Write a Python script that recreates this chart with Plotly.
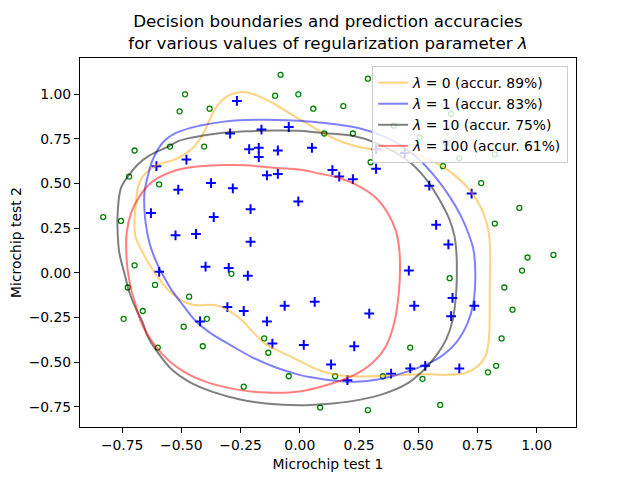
import plotly.graph_objects as go

# microchip test results (ex2data2): test 1, test 2, accepted?
test1 = [0.051267, -0.092742, -0.21371, -0.375, -0.51325, -0.52477, -0.39804, -0.30588, 0.016705, 0.13191,
         0.38537, 0.52938, 0.63882, 0.73675, 0.54666, 0.322, 0.16647, -0.046659, -0.17339, -0.47869,
         -0.60541, -0.62846, -0.59389, -0.42108, -0.11578, 0.20104, 0.46601, 0.67339, -0.13882, -0.29435,
         -0.26555, -0.16187, -0.17339, -0.28283, -0.36348, -0.30012, -0.23675, -0.06394, 0.062788, 0.22984,
         0.2932, 0.48329, 0.64459, 0.46025, 0.6273, 0.57546, 0.72523, 0.22408, 0.44297, 0.322,
         0.13767, -0.0063364, -0.092742, -0.20795, -0.20795, -0.43836, -0.21947, -0.13882, 0.18376, 0.22408,
         0.29896, 0.50634, 0.61578, 0.60426, 0.76555, 0.92684, 0.82316, 0.96141, 0.93836, 0.86348,
         0.89804, 0.85196, 0.82892, 0.79435, 0.59274, 0.51786, 0.46601, 0.35081, 0.28744, 0.085829,
         0.14919, -0.13306, -0.40956, -0.39228, -0.74366, -0.69758, -0.75518, -0.69758, -0.4038, -0.38076,
         -0.50749, -0.54781, 0.10311, 0.057028, -0.10426, -0.081221, 0.28744, 0.39689, 0.63882, 0.82316,
         0.67339, 1.0709, -0.046659, -0.23675, -0.15035, -0.49021, -0.46717, -0.28859, -0.61118, -0.66302,
         -0.59965, -0.72638, -0.83007, -0.72062, -0.59389, -0.48445, -0.0063364, 0.63265]
test2 = [0.69956, 0.68494, 0.69225, 0.50219, 0.46564, 0.2098, 0.034357, -0.19225, -0.40424, -0.51389,
         -0.56506, -0.5212, -0.24342, -0.18494, 0.48757, 0.5826, 0.53874, 0.81652, 0.69956, 0.63377,
         0.59722, 0.33406, 0.005117, -0.27266, -0.39693, -0.60161, -0.53582, -0.53582, 0.54605, 0.77997,
         0.96272, 0.8019, 0.64839, 0.47295, 0.31213, 0.027047, -0.21418, -0.18494, -0.16301, -0.41155,
         -0.2288, -0.18494, -0.14108, 0.012427, 0.15863, 0.26827, 0.44371, 0.52412, 0.67032, 0.69225,
         0.57529, 0.39985, 0.55336, 0.35599, 0.17325, 0.21711, -0.016813, -0.27266, 0.93348, 0.77997,
         0.61915, 0.75804, 0.7288, 0.59722, 0.50219, 0.3633, 0.27558, 0.085526, 0.012427, -0.082602,
         -0.20687, -0.36769, -0.5212, -0.55775, -0.7405, -0.5943, -0.41886, -0.57968, -0.76974, -0.75512,
         -0.57968, -0.4481, -0.41155, -0.25804, -0.25804, 0.041667, 0.2902, 0.68494, 0.70687, 0.91886,
         0.90424, 0.70687, 0.77997, 0.91886, 0.99196, 1.1089, 1.087, 0.82383, 0.88962, 0.66301,
         0.64108, 0.10015, -0.57968, -0.63816, -0.36769, -0.3019, -0.13377, -0.0060673, -0.067982, -0.21418,
         -0.41886, -0.082602, 0.31213, 0.53874, 0.49488, 0.99927, 0.99927, -0.030612]
accepted = [1] * 58 + [0] * 60

# decision boundaries (p = 0.5), traced clockwise
lam0_x = [-0.670, -0.694, -0.698, -0.691, -0.684, -0.663, -0.607, -0.522, -0.452, -0.410, -0.381, -0.346,
          -0.304, -0.262, -0.220, -0.170, -0.114, -0.044, 0.027, 0.097, 0.168, 0.251, 0.336, 0.434, 0.519,
          0.596, 0.660, 0.716, 0.758, 0.787, 0.801, 0.802, 0.798, 0.784, 0.744, 0.695, 0.618, 0.533, 0.449,
          0.350, 0.251, 0.167, 0.082, 0.012, -0.058, -0.143, -0.199, -0.241, -0.297, -0.339, -0.381, -0.424,
          -0.480, -0.543, -0.593, -0.635, -0.670]
lam0_y = [0.130, 0.205, 0.298, 0.391, 0.475, 0.540, 0.600, 0.638, 0.699, 0.773, 0.857, 0.941,
          0.991, 1.010, 1.010, 0.987, 0.950, 0.894, 0.838, 0.783, 0.738, 0.705, 0.688, 0.680, 0.648,
          0.600, 0.540, 0.466, 0.382, 0.289, 0.186, -0.093, -0.373, -0.466, -0.531, -0.563, -0.572, -0.568,
          -0.572, -0.578, -0.581, -0.574, -0.546, -0.503, -0.457, -0.401, -0.330, -0.270, -0.215, -0.187,
          -0.179, -0.183, -0.168, -0.112, -0.037, 0.046, 0.130]

lam1_x = [-0.635, -0.649, -0.656, -0.656, -0.642, -0.621, -0.580, -0.523, -0.425, -0.312, -0.171, -0.030,
          0.082, 0.168, 0.251, 0.350, 0.434, 0.505, 0.575, 0.632, 0.681, 0.716, 0.733, 0.741, 0.733, 0.709,
          0.660, 0.589, 0.519, 0.420, 0.336, 0.237, 0.139, 0.054, -0.002, -0.101, -0.199, -0.298, -0.380,
          -0.440, -0.501, -0.543, -0.579, -0.610, -0.635]
lam1_y = [0.168, 0.261, 0.354, 0.447, 0.540, 0.633, 0.727, 0.783, 0.823, 0.848, 0.857, 0.853,
          0.842, 0.829, 0.810, 0.767, 0.708, 0.633, 0.531, 0.428, 0.316, 0.205, 0.130, 0.000, -0.168, -0.279,
          -0.391, -0.475, -0.522, -0.568, -0.596, -0.611, -0.604, -0.587, -0.572, -0.531, -0.475, -0.401,
          -0.335, -0.270, -0.168, -0.093, -0.010, 0.074, 0.168]

lam10_x = [-0.762, -0.769, -0.769, -0.755, -0.723, -0.685, -0.636, -0.554, -0.508, -0.453, -0.340, -0.227,
           -0.115, -0.002, 0.101, 0.223, 0.322, 0.406, 0.477, 0.540, 0.589, 0.632, 0.653, 0.660, 0.663, 0.660,
           0.646, 0.618, 0.575, 0.519, 0.449, 0.350, 0.251, 0.139, -0.002, -0.143, -0.256, -0.368, -0.467,
           -0.537, -0.594, -0.643, -0.663, -0.691, -0.719, -0.741, -0.762]
lam10_y = [0.112, 0.224, 0.335, 0.475, 0.544, 0.605, 0.656, 0.708, 0.740, 0.758, 0.782, 0.792,
           0.797, 0.795, 0.782, 0.767, 0.727, 0.671, 0.605, 0.512, 0.410, 0.298, 0.205, 0.130, 0.037, -0.112,
           -0.261, -0.373, -0.466, -0.550, -0.624, -0.680, -0.712, -0.732, -0.742, -0.732, -0.708, -0.667,
           -0.611, -0.546, -0.457, -0.354, -0.279, -0.205, -0.112, 0.000, 0.112]

lam100_x = [-0.733, -0.731, -0.712, -0.677, -0.621, -0.522, -0.425, -0.312, -0.227, -0.101, -0.002, 0.082,
            0.167, 0.251, 0.322, 0.371, 0.406, 0.420, 0.423, 0.418, 0.399, 0.364, 0.308, 0.237, 0.139,
            -0.002, -0.143, -0.256, -0.396, -0.495, -0.580, -0.663, -0.691, -0.712, -0.727, -0.733]
lam100_y = [0.130, 0.224, 0.335, 0.428, 0.512, 0.574, 0.596, 0.604, 0.602, 0.587, 0.578, 0.556,
            0.531, 0.484, 0.419, 0.335, 0.233, 0.130, 0.018, -0.112, -0.279, -0.410, -0.503, -0.568, -0.619,
            -0.665, -0.671, -0.656, -0.611, -0.550, -0.457, -0.298, -0.187, -0.093, 0.018, 0.130]

lambdas = [0, 1, 10, 100]
accuracies = [89, 83, 75, 61]
boundaries = [(lam0_x, lam0_y), (lam1_x, lam1_y), (lam10_x, lam10_y), (lam100_x, lam100_y)]
colors = ['rgba(255,165,0,0.5)', 'rgba(0,0,255,0.5)', 'rgba(0,0,0,0.5)', 'rgba(255,0,0,0.5)']
tick_vals = [-0.75, -0.5, -0.25, 0, 0.25, 0.5, 0.75, 1.0]

FONT = 'DejaVu Sans'

fig = go.Figure()

pos_x = [a for a, c in zip(test1, accepted) if c == 1]
pos_y = [b for b, c in zip(test2, accepted) if c == 1]
neg_x = [a for a, c in zip(test1, accepted) if c == 0]
neg_y = [b for b, c in zip(test2, accepted) if c == 0]

fig.add_trace(go.Scatter(x=pos_x, y=pos_y, mode='markers', showlegend=False,
                         marker=dict(symbol='cross-thin', size=7, line=dict(color='blue', width=2))))
fig.add_trace(go.Scatter(x=neg_x, y=neg_y, mode='markers', showlegend=False,
                         marker=dict(symbol='circle-open', size=5, color='green', line=dict(width=1.3))))

for lam, acc, (bx, by), col in zip(lambdas, accuracies, boundaries, colors):
    fig.add_trace(go.Scatter(x=bx, y=by, mode='lines', line=dict(color=col, width=2, shape='spline'),
                             name=f'<i>λ</i> = {lam} (accur. {acc}%)'))

axis_style = dict(showgrid=False, zeroline=False, showline=True, mirror=True, linecolor='black', linewidth=1,
                  ticks='outside', ticklen=5, tickwidth=1, tickcolor='black', tickformat='.2f',
                  tickvals=tick_vals, automargin=False,
                  tickfont=dict(family=FONT, size=13.9, color='black'))

# the page puts the figure 8px in from the top-left corner, so the canvas is shrunk to match
fig.update_layout(
    width=624, height=464,
    margin=dict(l=72, r=56, t=50, b=45),
    plot_bgcolor='white', paper_bgcolor='white',
    font=dict(family=FONT, color='black'),
    title=dict(text='Decision boundaries and prediction accuracies<br>for various values of regularization parameter <i>λ</i>',
               x=0.5, xref='paper', xanchor='center', y=0.958, yref='container', yanchor='top',
               font=dict(family=FONT, size=16.7, color='black')),
    xaxis=dict(range=[-0.928, 1.166],
               title=dict(text='Microchip test 1', font=dict(family=FONT, size=13.9, color='black')),
               **axis_style),
    yaxis=dict(range=[-0.864, 1.203],
               title=dict(text='Microchip test 2', font=dict(family=FONT, size=13.9, color='black')),
               **axis_style),
    legend=dict(x=0.984, xanchor='right', y=0.978, yanchor='top',
                bgcolor='rgba(255,255,255,0.8)', bordercolor='#cccccc', borderwidth=1,
                font=dict(family=FONT, size=13.9), itemwidth=30, tracegroupgap=0),
)

fig.write_html("out.html")
